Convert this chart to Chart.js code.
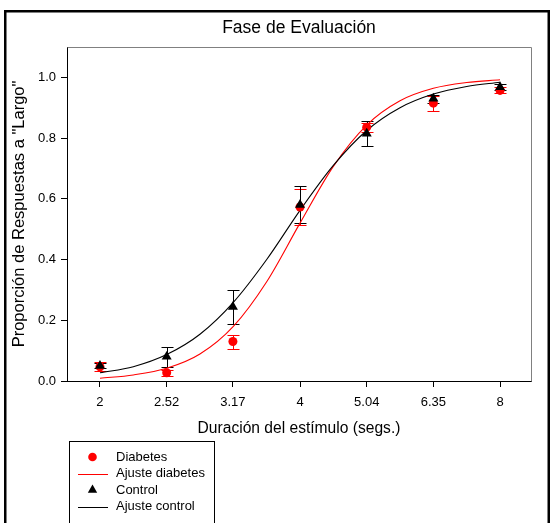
<!DOCTYPE html>
<html>
<head>
<meta charset="utf-8">
<script src="https://cdn.jsdelivr.net/npm/chart.js@4/dist/chart.umd.min.js"></script>
<style>
  html, body { margin: 0; padding: 0; background: #fff; }
  #wrap { width: 557px; height: 523px; position: relative; }
</style>
</head>
<body>
<div id="wrap"><canvas id="c" width="557" height="523"></canvas></div>
<script>
// Stimulus durations (s) and axis labels
const durations = [2, 2.52, 3.17, 4, 5.04, 6.35, 8];
const xTickLabels = ['2', '2.52', '3.17', '4', '5.04', '6.35', '8'];
const yTickValues = [0, 0.2, 0.4, 0.6, 0.8, 1.0];

// Proportion of "Largo" responses, mean and error per duration
const diabetesMean = [0.047, 0.027, 0.130, 0.573, 0.836, 0.915, 0.957];
const diabetesErr  = [0.014, 0.010, 0.023, 0.058, 0.015, 0.025, 0.010];
const controlMean  = [0.050, 0.080, 0.244, 0.580, 0.815, 0.930, 0.968];
const controlErr   = [0.008, 0.033, 0.055, 0.061, 0.040, 0.013, 0.010];

// Fitted psychometric curves, sampled along the duration axis
const fitDurations = [2, 2.245, 2.52, 2.828, 3.175, 3.564, 4, 4.49, 5.04, 5.657, 6.35, 7.127, 8];
const diabetesFit  = [0.009, 0.020, 0.042, 0.089, 0.180, 0.327, 0.520, 0.707, 0.843, 0.923, 0.964, 0.983, 0.992];
const controlFit   = [0.027, 0.047, 0.087, 0.154, 0.259, 0.400, 0.562, 0.710, 0.825, 0.900, 0.945, 0.970, 0.984];

const FONT = "'Liberation Sans', Arial, Helvetica, sans-serif";
const RED = '#ff0000';
const BLACK = '#000000';

const toXY = (xs, ys) => xs.map((x, i) => ({ x: x, y: ys[i] }));

const datasets = [
  { label: 'Control', type: 'scatter', data: toXY(durations, controlMean), errors: controlErr,
    pointStyle: 'triangle', pointRadius: 5.8, backgroundColor: BLACK, borderColor: BLACK, borderWidth: 0,
    legendKind: 'point', legendIndex: 2 },
  { label: 'Diabetes', type: 'scatter', data: toXY(durations, diabetesMean), errors: diabetesErr,
    pointStyle: 'circle', pointRadius: 4.5, backgroundColor: RED, borderColor: RED, borderWidth: 0,
    legendKind: 'point', legendIndex: 0 },
  { label: 'Ajuste control', type: 'line', data: toXY(fitDurations, controlFit),
    borderColor: BLACK, borderWidth: 1.1, pointRadius: 0, fill: false, cubicInterpolationMode: 'monotone',
    legendKind: 'line', legendIndex: 3 },
  { label: 'Ajuste diabetes', type: 'line', data: toXY(fitDurations, diabetesFit),
    borderColor: RED, borderWidth: 1.1, pointRadius: 0, fill: false, cubicInterpolationMode: 'monotone',
    legendKind: 'line', legendIndex: 1 }
];

// Vertical error bars with caps, drawn under the markers
const errorBars = {
  id: 'errorBars',
  beforeDatasetsDraw(chart) {
    const { ctx, scales: { x, y } } = chart;
    ctx.save();
    ctx.lineWidth = 1;
    // diabetes first, control over it
    [1, 0].forEach(di => {
      const ds = chart.data.datasets[di];
      ctx.strokeStyle = ds.borderColor;
      ds.data.forEach((p, i) => {
        const e = ds.errors[i];
        const px = Math.round(x.getPixelForValue(p.x)) + 0.5;
        const yt = Math.round(y.getPixelForValue(p.y + e)) + 0.5;
        const yb = Math.round(y.getPixelForValue(p.y - e)) + 0.5;
        const hw = 6;
        ctx.beginPath();
        ctx.moveTo(px, yt); ctx.lineTo(px, yb);
        ctx.moveTo(px - hw, yt); ctx.lineTo(px + hw, yt);
        ctx.moveTo(px - hw, yb); ctx.lineTo(px + hw, yb);
        ctx.stroke();
      });
    });
    ctx.restore();
  }
};

// Grey top/right edges of the plot box, outer frame and the legend box
const decorations = {
  id: 'decorations',
  afterDraw(chart) {
    const { ctx, chartArea: a } = chart;
    ctx.save();
    ctx.strokeStyle = '#808080';
    ctx.lineWidth = 1;
    ctx.beginPath();
    ctx.moveTo(Math.round(a.left) + 0.5, Math.round(a.top) + 0.5);
    ctx.lineTo(Math.round(a.right) + 0.5, Math.round(a.top) + 0.5);
    ctx.lineTo(Math.round(a.right) + 0.5, Math.round(a.bottom) + 0.5);
    ctx.stroke();

    // outer frame
    ctx.strokeStyle = '#000';
    ctx.lineWidth = 2.5;
    ctx.strokeRect(5.25, 11.25, 543.5, 530);

    // legend
    ctx.lineWidth = 1;
    ctx.strokeStyle = '#000';
    ctx.strokeRect(69.5, 441.5, 145, 100);
    const rowsY = [457, 473.5, 490, 506.5];
    ctx.font = '13px ' + FONT;
    ctx.textBaseline = 'middle';
    ctx.textAlign = 'left';
    chart.data.datasets.forEach(ds => {
      const yy = rowsY[ds.legendIndex];
      if (ds.legendKind === 'point') {
        ctx.fillStyle = ds.backgroundColor;
        ctx.strokeStyle = ds.borderColor;
        if (Chart.helpers && Chart.helpers.drawPoint) {
          Chart.helpers.drawPoint(ctx, { pointStyle: ds.pointStyle, radius: ds.pointStyle === 'circle' ? 4.3 : 5.4, rotation: 0, borderWidth: 0 }, 92.5, yy);
        }
      } else {
        ctx.strokeStyle = ds.borderColor;
        ctx.lineWidth = 1;
        ctx.beginPath();
        ctx.moveTo(78, Math.round(yy) + 0.5);
        ctx.lineTo(108, Math.round(yy) + 0.5);
        ctx.stroke();
      }
      ctx.fillStyle = '#000';
      ctx.fillText(ds.label, 116, yy);
    });
    ctx.restore();
  }
};

new Chart(document.getElementById('c'), {
  data: { datasets: datasets },
  plugins: [errorBars, decorations],
  options: {
    responsive: false,
    animation: false,
    events: [],
    layout: { padding: { left: 0, right: 26, top: 0, bottom: 0 } },
    plugins: {
      legend: { display: false },
      tooltip: { enabled: false },
      title: {
        display: true,
        text: 'Fase de Evaluación',
        fullSize: false,
        color: '#000',
        font: { family: FONT, size: 17.5, weight: 'normal', lineHeight: 1.2 },
        padding: { top: 18, bottom: 8 }
      }
    },
    scales: {
      x: {
        type: 'logarithmic',
        position: 'bottom',
        min: 1.784,
        max: 8.906,
        afterBuildTicks: s => { s.ticks = durations.map(v => ({ value: v })); },
        afterFit: s => { s.height = 142; },
        grid: { display: true, drawOnChartArea: false, drawTicks: true, tickLength: 6, color: '#000' },
        border: { display: true, color: '#000', width: 1 },
        ticks: {
          autoSkip: false, maxRotation: 0, minRotation: 0, padding: 8, color: '#000',
          font: { family: FONT, size: 13 },
          callback: (v, i) => xTickLabels[i]
        },
        title: {
          display: true, text: 'Duración del estímulo (segs.)', color: '#000',
          font: { family: FONT, size: 15.6, lineHeight: 1.2 },
          padding: { top: 0, bottom: 85 }
        }
      },
      y: {
        type: 'linear',
        position: 'left',
        min: 0,
        max: 1.1,
        afterBuildTicks: s => { s.ticks = yTickValues.map(v => ({ value: v })); },
        afterFit: s => { s.width = 67; },
        grid: { display: true, drawOnChartArea: false, drawTicks: true, tickLength: 6, color: '#000' },
        border: { display: true, color: '#000', width: 1 },
        ticks: {
          padding: 5, color: '#000',
          font: { family: FONT, size: 13 },
          callback: v => Number(v).toFixed(1)
        },
        title: {
          display: true, text: 'Proporción de Respuestas a "Largo"', color: '#000',
          font: { family: FONT, size: 16.5, lineHeight: 1.2 },
          padding: { top: 10, bottom: 0 }
        }
      }
    }
  }
});
</script>
</body>
</html>
